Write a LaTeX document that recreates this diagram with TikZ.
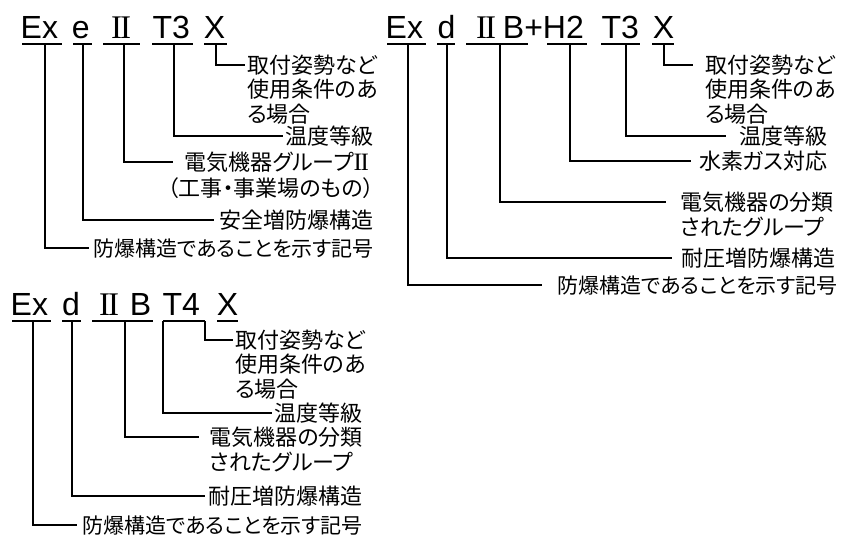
\documentclass[tikz,border=0pt]{standalone}
\usepackage{fontspec}
\setmainfont{Liberation Sans}
\newfontfamily\jp[RawFeature=+palt]{Noto Sans CJK JP}
\newfontfamily\rmn{Liberation Serif}
\newcommand{\romtwo}{{\rmn I\kern-0.06em I}}
\newcommand{\romtwolab}{{\rmn\fontsize{25}{25}\selectfont I\kern-0.06em I}}
\begin{document}
\begin{tikzpicture}[x=1pt,y=-1pt,
  tok/.style={font=\fontsize{32}{32}\selectfont, inner sep=0pt, anchor=base west},
  rom/.style={font=\rmn\fontsize{33}{33}\selectfont, inner sep=0pt, anchor=base},
  lab/.style={font=\jp\fontsize{22}{22}\selectfont, inner sep=0pt, text height=20pt, text depth=3.2pt},
  labs/.style={lab, font=\jp\fontsize{21}{21}\selectfont},
  ul/.style={line width=1.5pt},
  con/.style={line width=1.3pt},
]
\useasboundingbox (0,0) rectangle (856,535);

% ---------- Diagram 1 : Ex e II T3 X ----------
\node[tok] (t1ex) at (20.5,38) {Ex};
\node[tok] (t1e) at (71.7,38) {e};
\node[rom] (t1g) at (121,38) {\romtwo};
\node[tok] (t1t) at (152.3,38) {T3};
\node[tok] (t1x) at (203.7,38) {X};
\draw[ul] (22,44) -- (62,44);
\draw[ul] (73,44) -- (92,44);
\draw[ul] (103,44) -- (140,44);
\draw[ul] (152,44) -- (193,44);
\draw[ul] (204,44) -- (227,44);

\node[lab,anchor=west] (l1x1) at (247,65) {取付姿勢など};
\node[lab,anchor=west] (l1x2) at (247,89.5) {使用条件のあ};
\node[lab,anchor=west] (l1x3) at (247,114) {る場合};
\node[lab,anchor=east] (l1t) at (374,136) {温度等級};
\node[lab,anchor=east] (l1g1) at (369,162) {電気機器グループ\romtwolab};
\node[lab,anchor=east] (l1g2) at (374,188) {（工事・事業場のもの）};
\node[lab,anchor=east] (l1e) at (374,220) {安全増防爆構造};
\node[labs,anchor=east] (l1ex) at (374,248) {防爆構造であることを示す記号};

\coordinate (c1x) at (216,44);
\coordinate (c1t) at (174,44);
\coordinate (c1g) at (124,44);
\coordinate (c1e) at (83,44);
\coordinate (c1ex) at (45,44);
\draw[con,shorten >=2pt] (c1x) |- (l1x1.west);
\draw[con,shorten >=3pt] (c1t) |- (l1t.west);
\draw[con,shorten >=11pt] (c1g) |- (l1g1.west);
\draw[con,shorten >=6pt] (c1e) |- (l1e.west);
\draw[con,shorten >=4pt] (c1ex) |- (l1ex.west);

% ---------- Diagram 2 : Ex d IIB+H2 T3 X ----------
\node[tok] (t2ex) at (385.5,38) {Ex};
\node[tok] (t2d) at (437.5,38) {d};
\node[rom] (t2g) at (486,38) {\romtwo};
\node[tok] (t2b) at (502.7,38) {B+H2};
\node[tok] (t2t) at (601.3,38) {T3};
\node[tok] (t2x) at (652.7,38) {X};
\draw[ul] (387,44) -- (426,44);
\draw[ul] (437,44) -- (455,44);
\draw[ul] (466,44) -- (528,44);
\draw[ul] (547,44) -- (587,44);
\draw[ul] (601,44) -- (640,44);
\draw[ul] (652,44) -- (674,44);

\node[lab,anchor=west] (l2x1) at (705,65) {取付姿勢など};
\node[lab,anchor=west] (l2x2) at (705,89.5) {使用条件のあ};
\node[lab,anchor=west] (l2x3) at (705,114) {る場合};
\node[lab,anchor=east] (l2t) at (828,136) {温度等級};
\node[lab,anchor=east] (l2h) at (828,161) {水素ガス対応};
\node[lab,anchor=east] (l2g1) at (834,202) {電気機器の分類};
\node[lab,anchor=west] (l2g2) at ([yshift=-25pt]l2g1.west) {されたグループ};
\node[lab,anchor=east] (l2d) at (836,258) {耐圧増防爆構造};
\node[labs,anchor=east] (l2ex) at (838,285) {防爆構造であることを示す記号};

\coordinate (c2x) at (664,44);
\coordinate (c2t) at (626,44);
\coordinate (c2h) at (570,44);
\coordinate (c2g) at (500,44);
\coordinate (c2d) at (447,44);
\coordinate (c2ex) at (408,44);
\draw[con,shorten >=12pt] (c2x) |- (l2x1.west);
\draw[con,shorten >=14pt] (c2t) |- (l2t.west);
\draw[con,shorten >=8pt] (c2h) |- (l2h.west);
\draw[con,shorten >=14pt] (c2g) |- (l2g1.west);
\draw[con,shorten >=10pt] (c2d) |- (l2d.west);
\draw[con,shorten >=15pt] (c2ex) |- (l2ex.west);

% ---------- Diagram 3 : Ex d IIB T4 X ----------
\node[tok] (t3ex) at (10.5,315) {Ex};
\node[tok] (t3d) at (62,315) {d};
\node[rom] (t3g) at (109,315) {\romtwo};
\node[tok] (t3b) at (129.7,315) {B};
\node[tok] (t3t) at (162.3,315) {T4};
\node[tok] (t3x) at (216.7,315) {X};
\draw[ul] (12,321) -- (51,321);
\draw[ul] (62,321) -- (81,321);
\draw[ul] (92,321) -- (153,321);
\draw[ul] (163,321) -- (205,321);
\draw[ul] (217,321) -- (238,321);

\node[lab,anchor=west] (l3x1) at (235,340) {取付姿勢など};
\node[lab,anchor=west] (l3x2) at (235,364.5) {使用条件のあ};
\node[lab,anchor=west] (l3x3) at (235,389) {る場合};
\node[lab,anchor=east] (l3t) at (363,413) {温度等級};
\node[lab,anchor=east] (l3g1) at (363,437) {電気機器の分類};
\node[lab,anchor=west] (l3g2) at ([yshift=-25pt]l3g1.west) {されたグループ};
\node[lab,anchor=east] (l3d) at (363,496) {耐圧増防爆構造};
\node[labs,anchor=east] (l3ex) at (363,525) {防爆構造であることを示す記号};

\coordinate (c3x) at (205,321);
\coordinate (c3t) at (163,321);
\coordinate (c3g) at (125,321);
\coordinate (c3d) at (72,321);
\coordinate (c3ex) at (33,321);
\draw[con,shorten >=2pt] (c3x) |- (l3x1.west);
\draw[con,shorten >=3pt] (c3t) |- (l3t.west);
\draw[con,shorten >=10pt] (c3g) |- (l3g1.west);
\draw[con,shorten >=4pt] (c3d) |- (l3d.west);
\draw[con,shorten >=5pt] (c3ex) |- (l3ex.west);
\end{tikzpicture}
\end{document}
